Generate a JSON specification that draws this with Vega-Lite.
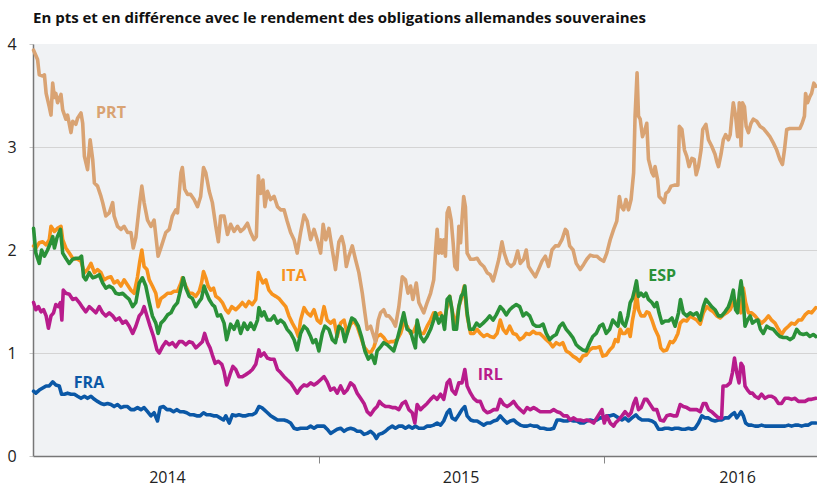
{
"$schema": "https://vega.github.io/schema/vega-lite/v6.json",
"width": 784, "height": 412,
"autosize": {"type": "none"},
"padding": {"left": 33, "top": 44, "right": 0, "bottom": 32},
"background": "white",
"title": {"text": "En pts et en différence avec le rendement des obligations allemandes souveraines", "anchor": "start", "frame": "group", "dx": 0, "offset": 10, "font": "Open Sans", "fontSize": 15, "fontWeight": "bold", "color": "#111111"},
"config": {"view": {"fill": "#f0f2f4", "stroke": null}},
"datasets": {"series": [
{"s":"FRA","t":2014.002,"v":0.63},{"s":"FRA","t":2014.010,"v":0.61},{"s":"FRA","t":2014.022,"v":0.64},{"s":"FRA","t":2014.034,"v":0.66},{"s":"FRA","t":2014.046,"v":0.68},{"s":"FRA","t":2014.057,"v":0.68},{"s":"FRA","t":2014.069,"v":0.72},{"s":"FRA","t":2014.080,"v":0.69},{"s":"FRA","t":2014.092,"v":0.68},{"s":"FRA","t":2014.100,"v":0.60},{"s":"FRA","t":2014.110,"v":0.60},{"s":"FRA","t":2014.121,"v":0.61},{"s":"FRA","t":2014.133,"v":0.60},{"s":"FRA","t":2014.145,"v":0.60},{"s":"FRA","t":2014.156,"v":0.58},{"s":"FRA","t":2014.168,"v":0.56},{"s":"FRA","t":2014.180,"v":0.58},{"s":"FRA","t":2014.191,"v":0.56},{"s":"FRA","t":2014.203,"v":0.58},{"s":"FRA","t":2014.215,"v":0.55},{"s":"FRA","t":2014.226,"v":0.53},{"s":"FRA","t":2014.238,"v":0.51},{"s":"FRA","t":2014.249,"v":0.50},{"s":"FRA","t":2014.261,"v":0.51},{"s":"FRA","t":2014.273,"v":0.50},{"s":"FRA","t":2014.284,"v":0.48},{"s":"FRA","t":2014.296,"v":0.50},{"s":"FRA","t":2014.308,"v":0.47},{"s":"FRA","t":2014.319,"v":0.48},{"s":"FRA","t":2014.331,"v":0.48},{"s":"FRA","t":2014.343,"v":0.45},{"s":"FRA","t":2014.354,"v":0.45},{"s":"FRA","t":2014.366,"v":0.47},{"s":"FRA","t":2014.378,"v":0.45},{"s":"FRA","t":2014.389,"v":0.47},{"s":"FRA","t":2014.401,"v":0.43},{"s":"FRA","t":2014.413,"v":0.39},{"s":"FRA","t":2014.424,"v":0.42},{"s":"FRA","t":2014.436,"v":0.34},{"s":"FRA","t":2014.445,"v":0.47},{"s":"FRA","t":2014.457,"v":0.48},{"s":"FRA","t":2014.469,"v":0.45},{"s":"FRA","t":2014.480,"v":0.45},{"s":"FRA","t":2014.492,"v":0.43},{"s":"FRA","t":2014.503,"v":0.45},{"s":"FRA","t":2014.515,"v":0.43},{"s":"FRA","t":2014.527,"v":0.43},{"s":"FRA","t":2014.538,"v":0.42},{"s":"FRA","t":2014.550,"v":0.40},{"s":"FRA","t":2014.562,"v":0.40},{"s":"FRA","t":2014.573,"v":0.39},{"s":"FRA","t":2014.585,"v":0.39},{"s":"FRA","t":2014.597,"v":0.42},{"s":"FRA","t":2014.608,"v":0.40},{"s":"FRA","t":2014.620,"v":0.40},{"s":"FRA","t":2014.632,"v":0.39},{"s":"FRA","t":2014.643,"v":0.39},{"s":"FRA","t":2014.655,"v":0.37},{"s":"FRA","t":2014.667,"v":0.35},{"s":"FRA","t":2014.675,"v":0.39},{"s":"FRA","t":2014.687,"v":0.32},{"s":"FRA","t":2014.698,"v":0.40},{"s":"FRA","t":2014.710,"v":0.39},{"s":"FRA","t":2014.721,"v":0.40},{"s":"FRA","t":2014.733,"v":0.39},{"s":"FRA","t":2014.745,"v":0.39},{"s":"FRA","t":2014.756,"v":0.40},{"s":"FRA","t":2014.768,"v":0.40},{"s":"FRA","t":2014.780,"v":0.42},{"s":"FRA","t":2014.791,"v":0.48},{"s":"FRA","t":2014.801,"v":0.47},{"s":"FRA","t":2014.809,"v":0.45},{"s":"FRA","t":2014.821,"v":0.42},{"s":"FRA","t":2014.832,"v":0.39},{"s":"FRA","t":2014.844,"v":0.37},{"s":"FRA","t":2014.856,"v":0.35},{"s":"FRA","t":2014.867,"v":0.35},{"s":"FRA","t":2014.879,"v":0.35},{"s":"FRA","t":2014.890,"v":0.34},{"s":"FRA","t":2014.902,"v":0.32},{"s":"FRA","t":2014.914,"v":0.27},{"s":"FRA","t":2014.925,"v":0.26},{"s":"FRA","t":2014.937,"v":0.27},{"s":"FRA","t":2014.949,"v":0.27},{"s":"FRA","t":2014.960,"v":0.27},{"s":"FRA","t":2014.972,"v":0.29},{"s":"FRA","t":2014.984,"v":0.27},{"s":"FRA","t":2014.995,"v":0.29},{"s":"FRA","t":2015.007,"v":0.29},{"s":"FRA","t":2015.019,"v":0.29},{"s":"FRA","t":2015.030,"v":0.26},{"s":"FRA","t":2015.042,"v":0.22},{"s":"FRA","t":2015.054,"v":0.24},{"s":"FRA","t":2015.065,"v":0.26},{"s":"FRA","t":2015.077,"v":0.27},{"s":"FRA","t":2015.089,"v":0.24},{"s":"FRA","t":2015.100,"v":0.26},{"s":"FRA","t":2015.112,"v":0.27},{"s":"FRA","t":2015.124,"v":0.26},{"s":"FRA","t":2015.135,"v":0.24},{"s":"FRA","t":2015.147,"v":0.24},{"s":"FRA","t":2015.159,"v":0.21},{"s":"FRA","t":2015.170,"v":0.22},{"s":"FRA","t":2015.182,"v":0.24},{"s":"FRA","t":2015.194,"v":0.21},{"s":"FRA","t":2015.202,"v":0.17},{"s":"FRA","t":2015.211,"v":0.21},{"s":"FRA","t":2015.223,"v":0.22},{"s":"FRA","t":2015.234,"v":0.24},{"s":"FRA","t":2015.246,"v":0.27},{"s":"FRA","t":2015.258,"v":0.29},{"s":"FRA","t":2015.269,"v":0.27},{"s":"FRA","t":2015.281,"v":0.29},{"s":"FRA","t":2015.293,"v":0.29},{"s":"FRA","t":2015.304,"v":0.27},{"s":"FRA","t":2015.316,"v":0.29},{"s":"FRA","t":2015.328,"v":0.27},{"s":"FRA","t":2015.339,"v":0.29},{"s":"FRA","t":2015.351,"v":0.27},{"s":"FRA","t":2015.368,"v":0.27},{"s":"FRA","t":2015.380,"v":0.29},{"s":"FRA","t":2015.392,"v":0.29},{"s":"FRA","t":2015.403,"v":0.30},{"s":"FRA","t":2015.415,"v":0.32},{"s":"FRA","t":2015.427,"v":0.30},{"s":"FRA","t":2015.438,"v":0.34},{"s":"FRA","t":2015.450,"v":0.42},{"s":"FRA","t":2015.459,"v":0.45},{"s":"FRA","t":2015.467,"v":0.37},{"s":"FRA","t":2015.479,"v":0.35},{"s":"FRA","t":2015.491,"v":0.40},{"s":"FRA","t":2015.502,"v":0.45},{"s":"FRA","t":2015.512,"v":0.48},{"s":"FRA","t":2015.520,"v":0.39},{"s":"FRA","t":2015.532,"v":0.35},{"s":"FRA","t":2015.543,"v":0.34},{"s":"FRA","t":2015.555,"v":0.34},{"s":"FRA","t":2015.566,"v":0.32},{"s":"FRA","t":2015.578,"v":0.30},{"s":"FRA","t":2015.590,"v":0.32},{"s":"FRA","t":2015.601,"v":0.32},{"s":"FRA","t":2015.613,"v":0.34},{"s":"FRA","t":2015.625,"v":0.35},{"s":"FRA","t":2015.636,"v":0.39},{"s":"FRA","t":2015.648,"v":0.35},{"s":"FRA","t":2015.660,"v":0.32},{"s":"FRA","t":2015.671,"v":0.34},{"s":"FRA","t":2015.683,"v":0.35},{"s":"FRA","t":2015.695,"v":0.32},{"s":"FRA","t":2015.706,"v":0.30},{"s":"FRA","t":2015.718,"v":0.29},{"s":"FRA","t":2015.730,"v":0.29},{"s":"FRA","t":2015.741,"v":0.30},{"s":"FRA","t":2015.753,"v":0.29},{"s":"FRA","t":2015.765,"v":0.29},{"s":"FRA","t":2015.776,"v":0.27},{"s":"FRA","t":2015.788,"v":0.27},{"s":"FRA","t":2015.800,"v":0.26},{"s":"FRA","t":2015.811,"v":0.26},{"s":"FRA","t":2015.823,"v":0.27},{"s":"FRA","t":2015.835,"v":0.35},{"s":"FRA","t":2015.846,"v":0.35},{"s":"FRA","t":2015.858,"v":0.34},{"s":"FRA","t":2015.870,"v":0.34},{"s":"FRA","t":2015.881,"v":0.35},{"s":"FRA","t":2015.893,"v":0.34},{"s":"FRA","t":2015.904,"v":0.34},{"s":"FRA","t":2015.916,"v":0.32},{"s":"FRA","t":2015.928,"v":0.32},{"s":"FRA","t":2015.939,"v":0.34},{"s":"FRA","t":2015.951,"v":0.35},{"s":"FRA","t":2015.963,"v":0.34},{"s":"FRA","t":2015.974,"v":0.35},{"s":"FRA","t":2015.986,"v":0.37},{"s":"FRA","t":2015.998,"v":0.37},{"s":"FRA","t":2016.009,"v":0.39},{"s":"FRA","t":2016.021,"v":0.39},{"s":"FRA","t":2016.033,"v":0.40},{"s":"FRA","t":2016.050,"v":0.37},{"s":"FRA","t":2016.062,"v":0.35},{"s":"FRA","t":2016.073,"v":0.37},{"s":"FRA","t":2016.085,"v":0.34},{"s":"FRA","t":2016.097,"v":0.37},{"s":"FRA","t":2016.111,"v":0.40},{"s":"FRA","t":2016.120,"v":0.37},{"s":"FRA","t":2016.132,"v":0.35},{"s":"FRA","t":2016.143,"v":0.35},{"s":"FRA","t":2016.155,"v":0.35},{"s":"FRA","t":2016.167,"v":0.34},{"s":"FRA","t":2016.178,"v":0.32},{"s":"FRA","t":2016.190,"v":0.26},{"s":"FRA","t":2016.202,"v":0.26},{"s":"FRA","t":2016.213,"v":0.27},{"s":"FRA","t":2016.225,"v":0.27},{"s":"FRA","t":2016.237,"v":0.26},{"s":"FRA","t":2016.248,"v":0.27},{"s":"FRA","t":2016.260,"v":0.27},{"s":"FRA","t":2016.272,"v":0.26},{"s":"FRA","t":2016.283,"v":0.26},{"s":"FRA","t":2016.295,"v":0.27},{"s":"FRA","t":2016.307,"v":0.26},{"s":"FRA","t":2016.318,"v":0.27},{"s":"FRA","t":2016.330,"v":0.32},{"s":"FRA","t":2016.342,"v":0.39},{"s":"FRA","t":2016.353,"v":0.37},{"s":"FRA","t":2016.365,"v":0.37},{"s":"FRA","t":2016.376,"v":0.35},{"s":"FRA","t":2016.388,"v":0.34},{"s":"FRA","t":2016.400,"v":0.35},{"s":"FRA","t":2016.411,"v":0.35},{"s":"FRA","t":2016.423,"v":0.37},{"s":"FRA","t":2016.435,"v":0.37},{"s":"FRA","t":2016.446,"v":0.40},{"s":"FRA","t":2016.456,"v":0.42},{"s":"FRA","t":2016.464,"v":0.37},{"s":"FRA","t":2016.472,"v":0.40},{"s":"FRA","t":2016.479,"v":0.43},{"s":"FRA","t":2016.487,"v":0.39},{"s":"FRA","t":2016.495,"v":0.32},{"s":"FRA","t":2016.505,"v":0.30},{"s":"FRA","t":2016.516,"v":0.30},{"s":"FRA","t":2016.528,"v":0.29},{"s":"FRA","t":2016.540,"v":0.29},{"s":"FRA","t":2016.551,"v":0.30},{"s":"FRA","t":2016.563,"v":0.29},{"s":"FRA","t":2016.575,"v":0.29},{"s":"FRA","t":2016.586,"v":0.29},{"s":"FRA","t":2016.598,"v":0.29},{"s":"FRA","t":2016.610,"v":0.29},{"s":"FRA","t":2016.621,"v":0.29},{"s":"FRA","t":2016.633,"v":0.29},{"s":"FRA","t":2016.645,"v":0.30},{"s":"FRA","t":2016.656,"v":0.29},{"s":"FRA","t":2016.668,"v":0.30},{"s":"FRA","t":2016.680,"v":0.30},{"s":"FRA","t":2016.691,"v":0.29},{"s":"FRA","t":2016.703,"v":0.30},{"s":"FRA","t":2016.715,"v":0.30},{"s":"FRA","t":2016.726,"v":0.32},{"s":"FRA","t":2016.741,"v":0.32},
{"s":"IRL","t":2014.002,"v":1.49},{"s":"IRL","t":2014.010,"v":1.42},{"s":"IRL","t":2014.019,"v":1.45},{"s":"IRL","t":2014.028,"v":1.40},{"s":"IRL","t":2014.037,"v":1.42},{"s":"IRL","t":2014.046,"v":1.36},{"s":"IRL","t":2014.054,"v":1.24},{"s":"IRL","t":2014.063,"v":1.36},{"s":"IRL","t":2014.072,"v":1.39},{"s":"IRL","t":2014.080,"v":1.47},{"s":"IRL","t":2014.089,"v":1.45},{"s":"IRL","t":2014.096,"v":1.49},{"s":"IRL","t":2014.101,"v":1.32},{"s":"IRL","t":2014.106,"v":1.61},{"s":"IRL","t":2014.115,"v":1.58},{"s":"IRL","t":2014.127,"v":1.57},{"s":"IRL","t":2014.139,"v":1.52},{"s":"IRL","t":2014.150,"v":1.53},{"s":"IRL","t":2014.162,"v":1.49},{"s":"IRL","t":2014.174,"v":1.44},{"s":"IRL","t":2014.185,"v":1.40},{"s":"IRL","t":2014.197,"v":1.45},{"s":"IRL","t":2014.209,"v":1.42},{"s":"IRL","t":2014.220,"v":1.39},{"s":"IRL","t":2014.232,"v":1.45},{"s":"IRL","t":2014.244,"v":1.39},{"s":"IRL","t":2014.255,"v":1.36},{"s":"IRL","t":2014.267,"v":1.39},{"s":"IRL","t":2014.279,"v":1.36},{"s":"IRL","t":2014.290,"v":1.32},{"s":"IRL","t":2014.302,"v":1.34},{"s":"IRL","t":2014.314,"v":1.29},{"s":"IRL","t":2014.325,"v":1.31},{"s":"IRL","t":2014.337,"v":1.26},{"s":"IRL","t":2014.349,"v":1.19},{"s":"IRL","t":2014.360,"v":1.26},{"s":"IRL","t":2014.372,"v":1.36},{"s":"IRL","t":2014.381,"v":1.39},{"s":"IRL","t":2014.389,"v":1.45},{"s":"IRL","t":2014.399,"v":1.36},{"s":"IRL","t":2014.410,"v":1.26},{"s":"IRL","t":2014.422,"v":1.16},{"s":"IRL","t":2014.434,"v":1.03},{"s":"IRL","t":2014.442,"v":1.00},{"s":"IRL","t":2014.453,"v":1.06},{"s":"IRL","t":2014.465,"v":1.11},{"s":"IRL","t":2014.477,"v":1.08},{"s":"IRL","t":2014.488,"v":1.10},{"s":"IRL","t":2014.500,"v":1.06},{"s":"IRL","t":2014.512,"v":1.11},{"s":"IRL","t":2014.523,"v":1.11},{"s":"IRL","t":2014.535,"v":1.08},{"s":"IRL","t":2014.547,"v":1.11},{"s":"IRL","t":2014.558,"v":1.10},{"s":"IRL","t":2014.570,"v":1.05},{"s":"IRL","t":2014.582,"v":1.08},{"s":"IRL","t":2014.593,"v":1.11},{"s":"IRL","t":2014.601,"v":1.19},{"s":"IRL","t":2014.611,"v":1.10},{"s":"IRL","t":2014.620,"v":1.05},{"s":"IRL","t":2014.628,"v":0.98},{"s":"IRL","t":2014.638,"v":0.90},{"s":"IRL","t":2014.649,"v":0.92},{"s":"IRL","t":2014.661,"v":0.89},{"s":"IRL","t":2014.669,"v":0.82},{"s":"IRL","t":2014.678,"v":0.69},{"s":"IRL","t":2014.684,"v":0.74},{"s":"IRL","t":2014.692,"v":0.81},{"s":"IRL","t":2014.700,"v":0.87},{"s":"IRL","t":2014.710,"v":0.84},{"s":"IRL","t":2014.721,"v":0.77},{"s":"IRL","t":2014.733,"v":0.77},{"s":"IRL","t":2014.745,"v":0.79},{"s":"IRL","t":2014.756,"v":0.81},{"s":"IRL","t":2014.768,"v":0.84},{"s":"IRL","t":2014.780,"v":0.89},{"s":"IRL","t":2014.791,"v":1.03},{"s":"IRL","t":2014.797,"v":0.97},{"s":"IRL","t":2014.809,"v":1.00},{"s":"IRL","t":2014.821,"v":0.95},{"s":"IRL","t":2014.832,"v":0.94},{"s":"IRL","t":2014.844,"v":0.94},{"s":"IRL","t":2014.856,"v":0.84},{"s":"IRL","t":2014.867,"v":0.81},{"s":"IRL","t":2014.879,"v":0.77},{"s":"IRL","t":2014.890,"v":0.74},{"s":"IRL","t":2014.902,"v":0.71},{"s":"IRL","t":2014.914,"v":0.66},{"s":"IRL","t":2014.925,"v":0.61},{"s":"IRL","t":2014.937,"v":0.66},{"s":"IRL","t":2014.949,"v":0.69},{"s":"IRL","t":2014.960,"v":0.68},{"s":"IRL","t":2014.972,"v":0.71},{"s":"IRL","t":2014.984,"v":0.69},{"s":"IRL","t":2014.995,"v":0.71},{"s":"IRL","t":2015.007,"v":0.74},{"s":"IRL","t":2015.019,"v":0.77},{"s":"IRL","t":2015.030,"v":0.72},{"s":"IRL","t":2015.042,"v":0.64},{"s":"IRL","t":2015.054,"v":0.66},{"s":"IRL","t":2015.065,"v":0.61},{"s":"IRL","t":2015.077,"v":0.68},{"s":"IRL","t":2015.089,"v":0.61},{"s":"IRL","t":2015.100,"v":0.64},{"s":"IRL","t":2015.112,"v":0.71},{"s":"IRL","t":2015.124,"v":0.68},{"s":"IRL","t":2015.135,"v":0.61},{"s":"IRL","t":2015.147,"v":0.56},{"s":"IRL","t":2015.159,"v":0.51},{"s":"IRL","t":2015.170,"v":0.43},{"s":"IRL","t":2015.182,"v":0.40},{"s":"IRL","t":2015.194,"v":0.45},{"s":"IRL","t":2015.205,"v":0.48},{"s":"IRL","t":2015.213,"v":0.53},{"s":"IRL","t":2015.223,"v":0.50},{"s":"IRL","t":2015.234,"v":0.48},{"s":"IRL","t":2015.246,"v":0.48},{"s":"IRL","t":2015.258,"v":0.47},{"s":"IRL","t":2015.269,"v":0.47},{"s":"IRL","t":2015.281,"v":0.45},{"s":"IRL","t":2015.293,"v":0.51},{"s":"IRL","t":2015.304,"v":0.53},{"s":"IRL","t":2015.316,"v":0.45},{"s":"IRL","t":2015.328,"v":0.42},{"s":"IRL","t":2015.337,"v":0.32},{"s":"IRL","t":2015.345,"v":0.50},{"s":"IRL","t":2015.357,"v":0.45},{"s":"IRL","t":2015.368,"v":0.48},{"s":"IRL","t":2015.380,"v":0.51},{"s":"IRL","t":2015.392,"v":0.55},{"s":"IRL","t":2015.403,"v":0.58},{"s":"IRL","t":2015.415,"v":0.55},{"s":"IRL","t":2015.427,"v":0.60},{"s":"IRL","t":2015.438,"v":0.55},{"s":"IRL","t":2015.450,"v":0.71},{"s":"IRL","t":2015.459,"v":0.74},{"s":"IRL","t":2015.467,"v":0.64},{"s":"IRL","t":2015.479,"v":0.60},{"s":"IRL","t":2015.491,"v":0.71},{"s":"IRL","t":2015.502,"v":0.71},{"s":"IRL","t":2015.512,"v":0.84},{"s":"IRL","t":2015.520,"v":0.68},{"s":"IRL","t":2015.532,"v":0.61},{"s":"IRL","t":2015.543,"v":0.56},{"s":"IRL","t":2015.555,"v":0.53},{"s":"IRL","t":2015.566,"v":0.53},{"s":"IRL","t":2015.578,"v":0.45},{"s":"IRL","t":2015.590,"v":0.42},{"s":"IRL","t":2015.601,"v":0.43},{"s":"IRL","t":2015.613,"v":0.45},{"s":"IRL","t":2015.625,"v":0.45},{"s":"IRL","t":2015.636,"v":0.55},{"s":"IRL","t":2015.648,"v":0.50},{"s":"IRL","t":2015.660,"v":0.48},{"s":"IRL","t":2015.671,"v":0.50},{"s":"IRL","t":2015.683,"v":0.53},{"s":"IRL","t":2015.695,"v":0.48},{"s":"IRL","t":2015.706,"v":0.45},{"s":"IRL","t":2015.718,"v":0.42},{"s":"IRL","t":2015.730,"v":0.47},{"s":"IRL","t":2015.741,"v":0.45},{"s":"IRL","t":2015.753,"v":0.47},{"s":"IRL","t":2015.765,"v":0.45},{"s":"IRL","t":2015.776,"v":0.43},{"s":"IRL","t":2015.788,"v":0.43},{"s":"IRL","t":2015.800,"v":0.43},{"s":"IRL","t":2015.811,"v":0.43},{"s":"IRL","t":2015.823,"v":0.45},{"s":"IRL","t":2015.835,"v":0.43},{"s":"IRL","t":2015.846,"v":0.42},{"s":"IRL","t":2015.858,"v":0.39},{"s":"IRL","t":2015.870,"v":0.39},{"s":"IRL","t":2015.881,"v":0.35},{"s":"IRL","t":2015.893,"v":0.37},{"s":"IRL","t":2015.904,"v":0.35},{"s":"IRL","t":2015.916,"v":0.35},{"s":"IRL","t":2015.928,"v":0.34},{"s":"IRL","t":2015.939,"v":0.35},{"s":"IRL","t":2015.951,"v":0.34},{"s":"IRL","t":2015.963,"v":0.32},{"s":"IRL","t":2015.974,"v":0.37},{"s":"IRL","t":2015.992,"v":0.45},{"s":"IRL","t":2016.000,"v":0.32},{"s":"IRL","t":2016.009,"v":0.39},{"s":"IRL","t":2016.021,"v":0.32},{"s":"IRL","t":2016.033,"v":0.29},{"s":"IRL","t":2016.039,"v":0.32},{"s":"IRL","t":2016.050,"v":0.35},{"s":"IRL","t":2016.062,"v":0.39},{"s":"IRL","t":2016.073,"v":0.43},{"s":"IRL","t":2016.085,"v":0.39},{"s":"IRL","t":2016.094,"v":0.42},{"s":"IRL","t":2016.103,"v":0.51},{"s":"IRL","t":2016.111,"v":0.56},{"s":"IRL","t":2016.120,"v":0.45},{"s":"IRL","t":2016.129,"v":0.47},{"s":"IRL","t":2016.141,"v":0.55},{"s":"IRL","t":2016.149,"v":0.55},{"s":"IRL","t":2016.161,"v":0.50},{"s":"IRL","t":2016.173,"v":0.45},{"s":"IRL","t":2016.184,"v":0.45},{"s":"IRL","t":2016.196,"v":0.35},{"s":"IRL","t":2016.208,"v":0.34},{"s":"IRL","t":2016.219,"v":0.39},{"s":"IRL","t":2016.231,"v":0.40},{"s":"IRL","t":2016.242,"v":0.39},{"s":"IRL","t":2016.254,"v":0.39},{"s":"IRL","t":2016.266,"v":0.50},{"s":"IRL","t":2016.277,"v":0.48},{"s":"IRL","t":2016.289,"v":0.47},{"s":"IRL","t":2016.301,"v":0.45},{"s":"IRL","t":2016.312,"v":0.45},{"s":"IRL","t":2016.324,"v":0.45},{"s":"IRL","t":2016.336,"v":0.43},{"s":"IRL","t":2016.347,"v":0.51},{"s":"IRL","t":2016.356,"v":0.51},{"s":"IRL","t":2016.365,"v":0.45},{"s":"IRL","t":2016.376,"v":0.43},{"s":"IRL","t":2016.388,"v":0.40},{"s":"IRL","t":2016.400,"v":0.37},{"s":"IRL","t":2016.411,"v":0.37},{"s":"IRL","t":2016.416,"v":0.68},{"s":"IRL","t":2016.429,"v":0.68},{"s":"IRL","t":2016.441,"v":0.71},{"s":"IRL","t":2016.449,"v":0.81},{"s":"IRL","t":2016.456,"v":0.95},{"s":"IRL","t":2016.464,"v":0.81},{"s":"IRL","t":2016.472,"v":0.71},{"s":"IRL","t":2016.479,"v":0.90},{"s":"IRL","t":2016.486,"v":0.87},{"s":"IRL","t":2016.493,"v":0.68},{"s":"IRL","t":2016.502,"v":0.64},{"s":"IRL","t":2016.511,"v":0.61},{"s":"IRL","t":2016.519,"v":0.61},{"s":"IRL","t":2016.528,"v":0.58},{"s":"IRL","t":2016.540,"v":0.56},{"s":"IRL","t":2016.551,"v":0.60},{"s":"IRL","t":2016.563,"v":0.56},{"s":"IRL","t":2016.575,"v":0.58},{"s":"IRL","t":2016.586,"v":0.58},{"s":"IRL","t":2016.598,"v":0.56},{"s":"IRL","t":2016.610,"v":0.51},{"s":"IRL","t":2016.621,"v":0.51},{"s":"IRL","t":2016.633,"v":0.56},{"s":"IRL","t":2016.645,"v":0.56},{"s":"IRL","t":2016.656,"v":0.55},{"s":"IRL","t":2016.668,"v":0.56},{"s":"IRL","t":2016.680,"v":0.53},{"s":"IRL","t":2016.691,"v":0.53},{"s":"IRL","t":2016.703,"v":0.53},{"s":"IRL","t":2016.715,"v":0.55},{"s":"IRL","t":2016.726,"v":0.55},{"s":"IRL","t":2016.741,"v":0.56},
{"s":"ITA","t":2014.002,"v":2.04},{"s":"ITA","t":2014.010,"v":2.02},{"s":"ITA","t":2014.022,"v":2.07},{"s":"ITA","t":2014.034,"v":2.08},{"s":"ITA","t":2014.046,"v":2.05},{"s":"ITA","t":2014.057,"v":2.10},{"s":"ITA","t":2014.063,"v":2.23},{"s":"ITA","t":2014.075,"v":2.18},{"s":"ITA","t":2014.086,"v":2.21},{"s":"ITA","t":2014.098,"v":2.23},{"s":"ITA","t":2014.104,"v":2.10},{"s":"ITA","t":2014.115,"v":2.02},{"s":"ITA","t":2014.127,"v":1.97},{"s":"ITA","t":2014.139,"v":1.92},{"s":"ITA","t":2014.156,"v":1.91},{"s":"ITA","t":2014.168,"v":1.89},{"s":"ITA","t":2014.180,"v":1.78},{"s":"ITA","t":2014.191,"v":1.81},{"s":"ITA","t":2014.203,"v":1.87},{"s":"ITA","t":2014.215,"v":1.78},{"s":"ITA","t":2014.226,"v":1.81},{"s":"ITA","t":2014.238,"v":1.78},{"s":"ITA","t":2014.249,"v":1.71},{"s":"ITA","t":2014.261,"v":1.73},{"s":"ITA","t":2014.273,"v":1.74},{"s":"ITA","t":2014.284,"v":1.68},{"s":"ITA","t":2014.296,"v":1.70},{"s":"ITA","t":2014.308,"v":1.65},{"s":"ITA","t":2014.319,"v":1.71},{"s":"ITA","t":2014.331,"v":1.66},{"s":"ITA","t":2014.343,"v":1.61},{"s":"ITA","t":2014.354,"v":1.58},{"s":"ITA","t":2014.366,"v":1.74},{"s":"ITA","t":2014.374,"v":1.89},{"s":"ITA","t":2014.381,"v":2.00},{"s":"ITA","t":2014.389,"v":1.84},{"s":"ITA","t":2014.399,"v":1.81},{"s":"ITA","t":2014.407,"v":1.71},{"s":"ITA","t":2014.418,"v":1.65},{"s":"ITA","t":2014.430,"v":1.58},{"s":"ITA","t":2014.438,"v":1.45},{"s":"ITA","t":2014.448,"v":1.53},{"s":"ITA","t":2014.459,"v":1.55},{"s":"ITA","t":2014.471,"v":1.58},{"s":"ITA","t":2014.483,"v":1.58},{"s":"ITA","t":2014.494,"v":1.60},{"s":"ITA","t":2014.506,"v":1.60},{"s":"ITA","t":2014.518,"v":1.68},{"s":"ITA","t":2014.523,"v":1.73},{"s":"ITA","t":2014.535,"v":1.65},{"s":"ITA","t":2014.547,"v":1.58},{"s":"ITA","t":2014.558,"v":1.58},{"s":"ITA","t":2014.570,"v":1.55},{"s":"ITA","t":2014.582,"v":1.60},{"s":"ITA","t":2014.590,"v":1.68},{"s":"ITA","t":2014.597,"v":1.79},{"s":"ITA","t":2014.605,"v":1.73},{"s":"ITA","t":2014.613,"v":1.65},{"s":"ITA","t":2014.622,"v":1.61},{"s":"ITA","t":2014.632,"v":1.63},{"s":"ITA","t":2014.640,"v":1.55},{"s":"ITA","t":2014.651,"v":1.53},{"s":"ITA","t":2014.663,"v":1.49},{"s":"ITA","t":2014.675,"v":1.42},{"s":"ITA","t":2014.684,"v":1.39},{"s":"ITA","t":2014.696,"v":1.45},{"s":"ITA","t":2014.710,"v":1.42},{"s":"ITA","t":2014.721,"v":1.45},{"s":"ITA","t":2014.733,"v":1.49},{"s":"ITA","t":2014.745,"v":1.45},{"s":"ITA","t":2014.756,"v":1.50},{"s":"ITA","t":2014.768,"v":1.47},{"s":"ITA","t":2014.780,"v":1.52},{"s":"ITA","t":2014.789,"v":1.78},{"s":"ITA","t":2014.795,"v":1.74},{"s":"ITA","t":2014.805,"v":1.68},{"s":"ITA","t":2014.815,"v":1.71},{"s":"ITA","t":2014.826,"v":1.61},{"s":"ITA","t":2014.838,"v":1.57},{"s":"ITA","t":2014.850,"v":1.55},{"s":"ITA","t":2014.861,"v":1.53},{"s":"ITA","t":2014.873,"v":1.49},{"s":"ITA","t":2014.885,"v":1.45},{"s":"ITA","t":2014.896,"v":1.36},{"s":"ITA","t":2014.908,"v":1.29},{"s":"ITA","t":2014.920,"v":1.23},{"s":"ITA","t":2014.929,"v":1.16},{"s":"ITA","t":2014.937,"v":1.32},{"s":"ITA","t":2014.949,"v":1.44},{"s":"ITA","t":2014.960,"v":1.39},{"s":"ITA","t":2014.972,"v":1.36},{"s":"ITA","t":2014.984,"v":1.42},{"s":"ITA","t":2014.995,"v":1.32},{"s":"ITA","t":2015.007,"v":1.29},{"s":"ITA","t":2015.019,"v":1.45},{"s":"ITA","t":2015.030,"v":1.32},{"s":"ITA","t":2015.042,"v":1.29},{"s":"ITA","t":2015.054,"v":1.32},{"s":"ITA","t":2015.065,"v":1.16},{"s":"ITA","t":2015.077,"v":1.29},{"s":"ITA","t":2015.089,"v":1.32},{"s":"ITA","t":2015.100,"v":1.19},{"s":"ITA","t":2015.112,"v":1.28},{"s":"ITA","t":2015.124,"v":1.31},{"s":"ITA","t":2015.135,"v":1.26},{"s":"ITA","t":2015.147,"v":1.16},{"s":"ITA","t":2015.159,"v":1.06},{"s":"ITA","t":2015.170,"v":1.02},{"s":"ITA","t":2015.182,"v":1.00},{"s":"ITA","t":2015.194,"v":1.06},{"s":"ITA","t":2015.205,"v":1.16},{"s":"ITA","t":2015.217,"v":1.18},{"s":"ITA","t":2015.228,"v":1.15},{"s":"ITA","t":2015.240,"v":1.10},{"s":"ITA","t":2015.252,"v":1.11},{"s":"ITA","t":2015.263,"v":1.11},{"s":"ITA","t":2015.275,"v":1.13},{"s":"ITA","t":2015.287,"v":1.19},{"s":"ITA","t":2015.298,"v":1.29},{"s":"ITA","t":2015.310,"v":1.26},{"s":"ITA","t":2015.322,"v":1.19},{"s":"ITA","t":2015.333,"v":1.21},{"s":"ITA","t":2015.345,"v":1.29},{"s":"ITA","t":2015.357,"v":1.19},{"s":"ITA","t":2015.368,"v":1.19},{"s":"ITA","t":2015.380,"v":1.26},{"s":"ITA","t":2015.392,"v":1.32},{"s":"ITA","t":2015.403,"v":1.39},{"s":"ITA","t":2015.415,"v":1.37},{"s":"ITA","t":2015.427,"v":1.39},{"s":"ITA","t":2015.438,"v":1.29},{"s":"ITA","t":2015.450,"v":1.45},{"s":"ITA","t":2015.459,"v":1.55},{"s":"ITA","t":2015.467,"v":1.42},{"s":"ITA","t":2015.479,"v":1.26},{"s":"ITA","t":2015.491,"v":1.45},{"s":"ITA","t":2015.502,"v":1.55},{"s":"ITA","t":2015.510,"v":1.65},{"s":"ITA","t":2015.520,"v":1.36},{"s":"ITA","t":2015.532,"v":1.19},{"s":"ITA","t":2015.543,"v":1.19},{"s":"ITA","t":2015.555,"v":1.23},{"s":"ITA","t":2015.566,"v":1.19},{"s":"ITA","t":2015.578,"v":1.16},{"s":"ITA","t":2015.590,"v":1.18},{"s":"ITA","t":2015.601,"v":1.16},{"s":"ITA","t":2015.613,"v":1.15},{"s":"ITA","t":2015.625,"v":1.19},{"s":"ITA","t":2015.636,"v":1.32},{"s":"ITA","t":2015.646,"v":1.23},{"s":"ITA","t":2015.657,"v":1.19},{"s":"ITA","t":2015.669,"v":1.26},{"s":"ITA","t":2015.681,"v":1.19},{"s":"ITA","t":2015.692,"v":1.18},{"s":"ITA","t":2015.704,"v":1.13},{"s":"ITA","t":2015.716,"v":1.15},{"s":"ITA","t":2015.727,"v":1.19},{"s":"ITA","t":2015.739,"v":1.18},{"s":"ITA","t":2015.751,"v":1.21},{"s":"ITA","t":2015.762,"v":1.19},{"s":"ITA","t":2015.774,"v":1.19},{"s":"ITA","t":2015.786,"v":1.16},{"s":"ITA","t":2015.797,"v":1.13},{"s":"ITA","t":2015.809,"v":1.10},{"s":"ITA","t":2015.820,"v":1.06},{"s":"ITA","t":2015.832,"v":1.10},{"s":"ITA","t":2015.844,"v":1.08},{"s":"ITA","t":2015.855,"v":1.10},{"s":"ITA","t":2015.867,"v":1.02},{"s":"ITA","t":2015.879,"v":1.00},{"s":"ITA","t":2015.890,"v":0.97},{"s":"ITA","t":2015.902,"v":0.95},{"s":"ITA","t":2015.914,"v":0.92},{"s":"ITA","t":2015.925,"v":0.97},{"s":"ITA","t":2015.937,"v":0.98},{"s":"ITA","t":2015.949,"v":1.03},{"s":"ITA","t":2015.960,"v":1.05},{"s":"ITA","t":2015.972,"v":1.05},{"s":"ITA","t":2015.984,"v":1.06},{"s":"ITA","t":2015.995,"v":0.97},{"s":"ITA","t":2016.007,"v":0.98},{"s":"ITA","t":2016.019,"v":1.03},{"s":"ITA","t":2016.030,"v":1.06},{"s":"ITA","t":2016.039,"v":1.13},{"s":"ITA","t":2016.048,"v":1.11},{"s":"ITA","t":2016.056,"v":1.23},{"s":"ITA","t":2016.064,"v":1.19},{"s":"ITA","t":2016.073,"v":1.19},{"s":"ITA","t":2016.083,"v":1.23},{"s":"ITA","t":2016.091,"v":1.16},{"s":"ITA","t":2016.099,"v":1.32},{"s":"ITA","t":2016.106,"v":1.42},{"s":"ITA","t":2016.113,"v":1.58},{"s":"ITA","t":2016.120,"v":1.42},{"s":"ITA","t":2016.129,"v":1.36},{"s":"ITA","t":2016.141,"v":1.36},{"s":"ITA","t":2016.149,"v":1.40},{"s":"ITA","t":2016.157,"v":1.39},{"s":"ITA","t":2016.167,"v":1.32},{"s":"ITA","t":2016.178,"v":1.23},{"s":"ITA","t":2016.190,"v":1.16},{"s":"ITA","t":2016.198,"v":1.05},{"s":"ITA","t":2016.207,"v":1.02},{"s":"ITA","t":2016.219,"v":1.03},{"s":"ITA","t":2016.231,"v":1.11},{"s":"ITA","t":2016.240,"v":1.10},{"s":"ITA","t":2016.248,"v":1.13},{"s":"ITA","t":2016.258,"v":1.19},{"s":"ITA","t":2016.266,"v":1.29},{"s":"ITA","t":2016.277,"v":1.32},{"s":"ITA","t":2016.289,"v":1.31},{"s":"ITA","t":2016.301,"v":1.36},{"s":"ITA","t":2016.312,"v":1.34},{"s":"ITA","t":2016.324,"v":1.32},{"s":"ITA","t":2016.336,"v":1.28},{"s":"ITA","t":2016.347,"v":1.39},{"s":"ITA","t":2016.359,"v":1.45},{"s":"ITA","t":2016.371,"v":1.42},{"s":"ITA","t":2016.382,"v":1.40},{"s":"ITA","t":2016.394,"v":1.36},{"s":"ITA","t":2016.406,"v":1.34},{"s":"ITA","t":2016.417,"v":1.37},{"s":"ITA","t":2016.429,"v":1.39},{"s":"ITA","t":2016.441,"v":1.42},{"s":"ITA","t":2016.452,"v":1.49},{"s":"ITA","t":2016.460,"v":1.45},{"s":"ITA","t":2016.470,"v":1.52},{"s":"ITA","t":2016.479,"v":1.39},{"s":"ITA","t":2016.487,"v":1.63},{"s":"ITA","t":2016.495,"v":1.49},{"s":"ITA","t":2016.505,"v":1.39},{"s":"ITA","t":2016.516,"v":1.39},{"s":"ITA","t":2016.528,"v":1.36},{"s":"ITA","t":2016.540,"v":1.32},{"s":"ITA","t":2016.551,"v":1.29},{"s":"ITA","t":2016.563,"v":1.32},{"s":"ITA","t":2016.575,"v":1.36},{"s":"ITA","t":2016.586,"v":1.32},{"s":"ITA","t":2016.598,"v":1.29},{"s":"ITA","t":2016.610,"v":1.23},{"s":"ITA","t":2016.621,"v":1.18},{"s":"ITA","t":2016.633,"v":1.23},{"s":"ITA","t":2016.645,"v":1.26},{"s":"ITA","t":2016.656,"v":1.29},{"s":"ITA","t":2016.668,"v":1.28},{"s":"ITA","t":2016.680,"v":1.32},{"s":"ITA","t":2016.691,"v":1.32},{"s":"ITA","t":2016.703,"v":1.37},{"s":"ITA","t":2016.715,"v":1.40},{"s":"ITA","t":2016.726,"v":1.39},{"s":"ITA","t":2016.741,"v":1.44},
{"s":"ESP","t":2014.002,"v":2.21},{"s":"ESP","t":2014.010,"v":1.97},{"s":"ESP","t":2014.022,"v":1.87},{"s":"ESP","t":2014.030,"v":2.00},{"s":"ESP","t":2014.040,"v":1.94},{"s":"ESP","t":2014.051,"v":2.00},{"s":"ESP","t":2014.063,"v":2.08},{"s":"ESP","t":2014.069,"v":2.13},{"s":"ESP","t":2014.075,"v":2.02},{"s":"ESP","t":2014.084,"v":2.12},{"s":"ESP","t":2014.096,"v":2.20},{"s":"ESP","t":2014.104,"v":1.97},{"s":"ESP","t":2014.115,"v":1.92},{"s":"ESP","t":2014.127,"v":1.87},{"s":"ESP","t":2014.139,"v":1.91},{"s":"ESP","t":2014.150,"v":1.92},{"s":"ESP","t":2014.162,"v":1.92},{"s":"ESP","t":2014.170,"v":1.94},{"s":"ESP","t":2014.177,"v":1.74},{"s":"ESP","t":2014.185,"v":1.71},{"s":"ESP","t":2014.197,"v":1.78},{"s":"ESP","t":2014.209,"v":1.73},{"s":"ESP","t":2014.220,"v":1.74},{"s":"ESP","t":2014.232,"v":1.76},{"s":"ESP","t":2014.244,"v":1.68},{"s":"ESP","t":2014.255,"v":1.63},{"s":"ESP","t":2014.267,"v":1.65},{"s":"ESP","t":2014.279,"v":1.63},{"s":"ESP","t":2014.290,"v":1.58},{"s":"ESP","t":2014.302,"v":1.57},{"s":"ESP","t":2014.314,"v":1.58},{"s":"ESP","t":2014.325,"v":1.55},{"s":"ESP","t":2014.337,"v":1.52},{"s":"ESP","t":2014.349,"v":1.45},{"s":"ESP","t":2014.360,"v":1.49},{"s":"ESP","t":2014.372,"v":1.68},{"s":"ESP","t":2014.383,"v":1.73},{"s":"ESP","t":2014.395,"v":1.65},{"s":"ESP","t":2014.407,"v":1.49},{"s":"ESP","t":2014.418,"v":1.36},{"s":"ESP","t":2014.430,"v":1.29},{"s":"ESP","t":2014.438,"v":1.19},{"s":"ESP","t":2014.448,"v":1.29},{"s":"ESP","t":2014.459,"v":1.32},{"s":"ESP","t":2014.471,"v":1.37},{"s":"ESP","t":2014.483,"v":1.39},{"s":"ESP","t":2014.494,"v":1.45},{"s":"ESP","t":2014.506,"v":1.49},{"s":"ESP","t":2014.518,"v":1.63},{"s":"ESP","t":2014.526,"v":1.73},{"s":"ESP","t":2014.535,"v":1.63},{"s":"ESP","t":2014.547,"v":1.55},{"s":"ESP","t":2014.558,"v":1.53},{"s":"ESP","t":2014.570,"v":1.45},{"s":"ESP","t":2014.582,"v":1.50},{"s":"ESP","t":2014.590,"v":1.53},{"s":"ESP","t":2014.599,"v":1.65},{"s":"ESP","t":2014.608,"v":1.58},{"s":"ESP","t":2014.617,"v":1.52},{"s":"ESP","t":2014.628,"v":1.47},{"s":"ESP","t":2014.636,"v":1.45},{"s":"ESP","t":2014.646,"v":1.36},{"s":"ESP","t":2014.657,"v":1.37},{"s":"ESP","t":2014.669,"v":1.29},{"s":"ESP","t":2014.678,"v":1.13},{"s":"ESP","t":2014.692,"v":1.28},{"s":"ESP","t":2014.704,"v":1.23},{"s":"ESP","t":2014.716,"v":1.31},{"s":"ESP","t":2014.727,"v":1.19},{"s":"ESP","t":2014.739,"v":1.29},{"s":"ESP","t":2014.751,"v":1.23},{"s":"ESP","t":2014.762,"v":1.29},{"s":"ESP","t":2014.774,"v":1.23},{"s":"ESP","t":2014.786,"v":1.32},{"s":"ESP","t":2014.791,"v":1.44},{"s":"ESP","t":2014.801,"v":1.36},{"s":"ESP","t":2014.809,"v":1.40},{"s":"ESP","t":2014.821,"v":1.32},{"s":"ESP","t":2014.832,"v":1.32},{"s":"ESP","t":2014.844,"v":1.36},{"s":"ESP","t":2014.856,"v":1.29},{"s":"ESP","t":2014.867,"v":1.32},{"s":"ESP","t":2014.879,"v":1.29},{"s":"ESP","t":2014.890,"v":1.23},{"s":"ESP","t":2014.902,"v":1.19},{"s":"ESP","t":2014.914,"v":1.13},{"s":"ESP","t":2014.925,"v":1.03},{"s":"ESP","t":2014.937,"v":1.19},{"s":"ESP","t":2014.949,"v":1.26},{"s":"ESP","t":2014.960,"v":1.23},{"s":"ESP","t":2014.972,"v":1.16},{"s":"ESP","t":2014.980,"v":1.10},{"s":"ESP","t":2014.990,"v":1.13},{"s":"ESP","t":2015.001,"v":1.02},{"s":"ESP","t":2015.013,"v":1.19},{"s":"ESP","t":2015.022,"v":1.26},{"s":"ESP","t":2015.036,"v":1.23},{"s":"ESP","t":2015.048,"v":1.13},{"s":"ESP","t":2015.059,"v":1.10},{"s":"ESP","t":2015.071,"v":1.26},{"s":"ESP","t":2015.083,"v":1.23},{"s":"ESP","t":2015.092,"v":1.11},{"s":"ESP","t":2015.104,"v":1.23},{"s":"ESP","t":2015.116,"v":1.34},{"s":"ESP","t":2015.127,"v":1.32},{"s":"ESP","t":2015.139,"v":1.26},{"s":"ESP","t":2015.151,"v":1.15},{"s":"ESP","t":2015.162,"v":1.02},{"s":"ESP","t":2015.174,"v":0.94},{"s":"ESP","t":2015.186,"v":0.98},{"s":"ESP","t":2015.197,"v":0.90},{"s":"ESP","t":2015.205,"v":1.02},{"s":"ESP","t":2015.217,"v":1.06},{"s":"ESP","t":2015.228,"v":1.10},{"s":"ESP","t":2015.240,"v":1.08},{"s":"ESP","t":2015.252,"v":1.05},{"s":"ESP","t":2015.263,"v":1.02},{"s":"ESP","t":2015.275,"v":1.13},{"s":"ESP","t":2015.287,"v":1.26},{"s":"ESP","t":2015.298,"v":1.39},{"s":"ESP","t":2015.310,"v":1.23},{"s":"ESP","t":2015.322,"v":1.21},{"s":"ESP","t":2015.330,"v":1.13},{"s":"ESP","t":2015.339,"v":1.05},{"s":"ESP","t":2015.345,"v":1.32},{"s":"ESP","t":2015.357,"v":1.16},{"s":"ESP","t":2015.368,"v":1.11},{"s":"ESP","t":2015.380,"v":1.16},{"s":"ESP","t":2015.392,"v":1.23},{"s":"ESP","t":2015.403,"v":1.32},{"s":"ESP","t":2015.409,"v":1.39},{"s":"ESP","t":2015.421,"v":1.29},{"s":"ESP","t":2015.432,"v":1.36},{"s":"ESP","t":2015.441,"v":1.23},{"s":"ESP","t":2015.450,"v":1.52},{"s":"ESP","t":2015.459,"v":1.55},{"s":"ESP","t":2015.467,"v":1.42},{"s":"ESP","t":2015.473,"v":1.23},{"s":"ESP","t":2015.483,"v":1.23},{"s":"ESP","t":2015.491,"v":1.45},{"s":"ESP","t":2015.499,"v":1.55},{"s":"ESP","t":2015.506,"v":1.58},{"s":"ESP","t":2015.512,"v":1.65},{"s":"ESP","t":2015.520,"v":1.39},{"s":"ESP","t":2015.529,"v":1.23},{"s":"ESP","t":2015.541,"v":1.23},{"s":"ESP","t":2015.553,"v":1.29},{"s":"ESP","t":2015.564,"v":1.26},{"s":"ESP","t":2015.576,"v":1.29},{"s":"ESP","t":2015.587,"v":1.32},{"s":"ESP","t":2015.599,"v":1.36},{"s":"ESP","t":2015.611,"v":1.32},{"s":"ESP","t":2015.622,"v":1.37},{"s":"ESP","t":2015.636,"v":1.45},{"s":"ESP","t":2015.646,"v":1.42},{"s":"ESP","t":2015.657,"v":1.37},{"s":"ESP","t":2015.669,"v":1.42},{"s":"ESP","t":2015.681,"v":1.45},{"s":"ESP","t":2015.692,"v":1.47},{"s":"ESP","t":2015.704,"v":1.45},{"s":"ESP","t":2015.716,"v":1.36},{"s":"ESP","t":2015.727,"v":1.39},{"s":"ESP","t":2015.739,"v":1.36},{"s":"ESP","t":2015.751,"v":1.28},{"s":"ESP","t":2015.762,"v":1.26},{"s":"ESP","t":2015.774,"v":1.26},{"s":"ESP","t":2015.786,"v":1.28},{"s":"ESP","t":2015.797,"v":1.19},{"s":"ESP","t":2015.809,"v":1.13},{"s":"ESP","t":2015.820,"v":1.16},{"s":"ESP","t":2015.832,"v":1.18},{"s":"ESP","t":2015.844,"v":1.26},{"s":"ESP","t":2015.855,"v":1.29},{"s":"ESP","t":2015.867,"v":1.23},{"s":"ESP","t":2015.879,"v":1.19},{"s":"ESP","t":2015.890,"v":1.15},{"s":"ESP","t":2015.902,"v":1.08},{"s":"ESP","t":2015.914,"v":1.05},{"s":"ESP","t":2015.925,"v":1.03},{"s":"ESP","t":2015.937,"v":1.02},{"s":"ESP","t":2015.949,"v":1.10},{"s":"ESP","t":2015.960,"v":1.16},{"s":"ESP","t":2015.972,"v":1.19},{"s":"ESP","t":2015.984,"v":1.26},{"s":"ESP","t":2015.995,"v":1.28},{"s":"ESP","t":2016.007,"v":1.19},{"s":"ESP","t":2016.019,"v":1.23},{"s":"ESP","t":2016.030,"v":1.32},{"s":"ESP","t":2016.039,"v":1.29},{"s":"ESP","t":2016.048,"v":1.26},{"s":"ESP","t":2016.056,"v":1.39},{"s":"ESP","t":2016.064,"v":1.29},{"s":"ESP","t":2016.073,"v":1.26},{"s":"ESP","t":2016.083,"v":1.36},{"s":"ESP","t":2016.091,"v":1.49},{"s":"ESP","t":2016.099,"v":1.53},{"s":"ESP","t":2016.106,"v":1.61},{"s":"ESP","t":2016.113,"v":1.70},{"s":"ESP","t":2016.120,"v":1.55},{"s":"ESP","t":2016.129,"v":1.58},{"s":"ESP","t":2016.138,"v":1.55},{"s":"ESP","t":2016.146,"v":1.58},{"s":"ESP","t":2016.155,"v":1.52},{"s":"ESP","t":2016.167,"v":1.49},{"s":"ESP","t":2016.176,"v":1.45},{"s":"ESP","t":2016.184,"v":1.49},{"s":"ESP","t":2016.192,"v":1.39},{"s":"ESP","t":2016.202,"v":1.29},{"s":"ESP","t":2016.213,"v":1.31},{"s":"ESP","t":2016.225,"v":1.31},{"s":"ESP","t":2016.237,"v":1.34},{"s":"ESP","t":2016.248,"v":1.26},{"s":"ESP","t":2016.260,"v":1.39},{"s":"ESP","t":2016.267,"v":1.52},{"s":"ESP","t":2016.277,"v":1.39},{"s":"ESP","t":2016.289,"v":1.36},{"s":"ESP","t":2016.301,"v":1.39},{"s":"ESP","t":2016.312,"v":1.37},{"s":"ESP","t":2016.324,"v":1.39},{"s":"ESP","t":2016.336,"v":1.32},{"s":"ESP","t":2016.347,"v":1.45},{"s":"ESP","t":2016.356,"v":1.52},{"s":"ESP","t":2016.365,"v":1.49},{"s":"ESP","t":2016.376,"v":1.45},{"s":"ESP","t":2016.388,"v":1.42},{"s":"ESP","t":2016.400,"v":1.36},{"s":"ESP","t":2016.411,"v":1.36},{"s":"ESP","t":2016.423,"v":1.40},{"s":"ESP","t":2016.435,"v":1.45},{"s":"ESP","t":2016.444,"v":1.52},{"s":"ESP","t":2016.452,"v":1.61},{"s":"ESP","t":2016.460,"v":1.42},{"s":"ESP","t":2016.467,"v":1.39},{"s":"ESP","t":2016.473,"v":1.58},{"s":"ESP","t":2016.479,"v":1.70},{"s":"ESP","t":2016.485,"v":1.58},{"s":"ESP","t":2016.493,"v":1.26},{"s":"ESP","t":2016.502,"v":1.32},{"s":"ESP","t":2016.511,"v":1.36},{"s":"ESP","t":2016.519,"v":1.29},{"s":"ESP","t":2016.528,"v":1.31},{"s":"ESP","t":2016.538,"v":1.32},{"s":"ESP","t":2016.547,"v":1.23},{"s":"ESP","t":2016.557,"v":1.19},{"s":"ESP","t":2016.569,"v":1.26},{"s":"ESP","t":2016.580,"v":1.24},{"s":"ESP","t":2016.592,"v":1.23},{"s":"ESP","t":2016.604,"v":1.19},{"s":"ESP","t":2016.615,"v":1.16},{"s":"ESP","t":2016.627,"v":1.15},{"s":"ESP","t":2016.639,"v":1.15},{"s":"ESP","t":2016.650,"v":1.13},{"s":"ESP","t":2016.662,"v":1.15},{"s":"ESP","t":2016.674,"v":1.23},{"s":"ESP","t":2016.685,"v":1.19},{"s":"ESP","t":2016.697,"v":1.18},{"s":"ESP","t":2016.709,"v":1.19},{"s":"ESP","t":2016.720,"v":1.16},{"s":"ESP","t":2016.732,"v":1.18},{"s":"ESP","t":2016.741,"v":1.16},
{"s":"PRT","t":2014.002,"v":3.94},{"s":"PRT","t":2014.016,"v":3.85},{"s":"PRT","t":2014.022,"v":3.70},{"s":"PRT","t":2014.034,"v":3.69},{"s":"PRT","t":2014.040,"v":3.70},{"s":"PRT","t":2014.046,"v":3.52},{"s":"PRT","t":2014.057,"v":3.39},{"s":"PRT","t":2014.063,"v":3.31},{"s":"PRT","t":2014.069,"v":3.62},{"s":"PRT","t":2014.075,"v":3.48},{"s":"PRT","t":2014.080,"v":3.52},{"s":"PRT","t":2014.086,"v":3.43},{"s":"PRT","t":2014.098,"v":3.51},{"s":"PRT","t":2014.104,"v":3.36},{"s":"PRT","t":2014.115,"v":3.27},{"s":"PRT","t":2014.121,"v":3.31},{"s":"PRT","t":2014.133,"v":3.14},{"s":"PRT","t":2014.139,"v":3.25},{"s":"PRT","t":2014.150,"v":3.22},{"s":"PRT","t":2014.156,"v":3.28},{"s":"PRT","t":2014.168,"v":3.33},{"s":"PRT","t":2014.174,"v":3.23},{"s":"PRT","t":2014.180,"v":2.91},{"s":"PRT","t":2014.191,"v":2.78},{"s":"PRT","t":2014.200,"v":3.07},{"s":"PRT","t":2014.209,"v":2.88},{"s":"PRT","t":2014.215,"v":2.65},{"s":"PRT","t":2014.226,"v":2.62},{"s":"PRT","t":2014.238,"v":2.52},{"s":"PRT","t":2014.244,"v":2.46},{"s":"PRT","t":2014.255,"v":2.33},{"s":"PRT","t":2014.267,"v":2.36},{"s":"PRT","t":2014.279,"v":2.46},{"s":"PRT","t":2014.284,"v":2.33},{"s":"PRT","t":2014.296,"v":2.23},{"s":"PRT","t":2014.308,"v":2.20},{"s":"PRT","t":2014.319,"v":2.23},{"s":"PRT","t":2014.331,"v":2.17},{"s":"PRT","t":2014.343,"v":2.17},{"s":"PRT","t":2014.351,"v":2.02},{"s":"PRT","t":2014.360,"v":2.12},{"s":"PRT","t":2014.372,"v":2.42},{"s":"PRT","t":2014.381,"v":2.62},{"s":"PRT","t":2014.389,"v":2.46},{"s":"PRT","t":2014.401,"v":2.29},{"s":"PRT","t":2014.413,"v":2.23},{"s":"PRT","t":2014.424,"v":2.29},{"s":"PRT","t":2014.438,"v":1.94},{"s":"PRT","t":2014.450,"v":2.04},{"s":"PRT","t":2014.465,"v":2.17},{"s":"PRT","t":2014.477,"v":2.20},{"s":"PRT","t":2014.488,"v":2.33},{"s":"PRT","t":2014.500,"v":2.39},{"s":"PRT","t":2014.506,"v":2.36},{"s":"PRT","t":2014.518,"v":2.75},{"s":"PRT","t":2014.523,"v":2.80},{"s":"PRT","t":2014.531,"v":2.59},{"s":"PRT","t":2014.541,"v":2.54},{"s":"PRT","t":2014.552,"v":2.54},{"s":"PRT","t":2014.564,"v":2.49},{"s":"PRT","t":2014.576,"v":2.42},{"s":"PRT","t":2014.587,"v":2.52},{"s":"PRT","t":2014.597,"v":2.80},{"s":"PRT","t":2014.605,"v":2.75},{"s":"PRT","t":2014.617,"v":2.57},{"s":"PRT","t":2014.628,"v":2.46},{"s":"PRT","t":2014.640,"v":2.23},{"s":"PRT","t":2014.649,"v":2.08},{"s":"PRT","t":2014.657,"v":2.33},{"s":"PRT","t":2014.669,"v":2.33},{"s":"PRT","t":2014.681,"v":2.15},{"s":"PRT","t":2014.692,"v":2.25},{"s":"PRT","t":2014.704,"v":2.18},{"s":"PRT","t":2014.716,"v":2.23},{"s":"PRT","t":2014.727,"v":2.18},{"s":"PRT","t":2014.739,"v":2.21},{"s":"PRT","t":2014.751,"v":2.26},{"s":"PRT","t":2014.762,"v":2.17},{"s":"PRT","t":2014.774,"v":2.10},{"s":"PRT","t":2014.782,"v":2.13},{"s":"PRT","t":2014.789,"v":2.72},{"s":"PRT","t":2014.797,"v":2.55},{"s":"PRT","t":2014.805,"v":2.68},{"s":"PRT","t":2014.812,"v":2.42},{"s":"PRT","t":2014.821,"v":2.57},{"s":"PRT","t":2014.832,"v":2.49},{"s":"PRT","t":2014.844,"v":2.52},{"s":"PRT","t":2014.856,"v":2.42},{"s":"PRT","t":2014.867,"v":2.39},{"s":"PRT","t":2014.879,"v":2.39},{"s":"PRT","t":2014.890,"v":2.28},{"s":"PRT","t":2014.902,"v":2.17},{"s":"PRT","t":2014.914,"v":2.10},{"s":"PRT","t":2014.925,"v":1.97},{"s":"PRT","t":2014.937,"v":2.17},{"s":"PRT","t":2014.949,"v":2.34},{"s":"PRT","t":2014.960,"v":2.28},{"s":"PRT","t":2014.972,"v":2.10},{"s":"PRT","t":2014.984,"v":2.20},{"s":"PRT","t":2014.995,"v":2.10},{"s":"PRT","t":2015.007,"v":1.97},{"s":"PRT","t":2015.016,"v":2.25},{"s":"PRT","t":2015.025,"v":2.10},{"s":"PRT","t":2015.036,"v":2.21},{"s":"PRT","t":2015.048,"v":2.00},{"s":"PRT","t":2015.059,"v":1.81},{"s":"PRT","t":2015.071,"v":2.08},{"s":"PRT","t":2015.081,"v":2.13},{"s":"PRT","t":2015.089,"v":2.04},{"s":"PRT","t":2015.097,"v":1.84},{"s":"PRT","t":2015.106,"v":1.94},{"s":"PRT","t":2015.118,"v":2.04},{"s":"PRT","t":2015.129,"v":1.91},{"s":"PRT","t":2015.141,"v":1.78},{"s":"PRT","t":2015.153,"v":1.58},{"s":"PRT","t":2015.162,"v":1.39},{"s":"PRT","t":2015.170,"v":1.23},{"s":"PRT","t":2015.182,"v":1.26},{"s":"PRT","t":2015.190,"v":1.19},{"s":"PRT","t":2015.199,"v":1.11},{"s":"PRT","t":2015.209,"v":1.32},{"s":"PRT","t":2015.217,"v":1.39},{"s":"PRT","t":2015.228,"v":1.42},{"s":"PRT","t":2015.237,"v":1.36},{"s":"PRT","t":2015.246,"v":1.36},{"s":"PRT","t":2015.258,"v":1.32},{"s":"PRT","t":2015.269,"v":1.26},{"s":"PRT","t":2015.281,"v":1.45},{"s":"PRT","t":2015.293,"v":1.74},{"s":"PRT","t":2015.304,"v":1.71},{"s":"PRT","t":2015.313,"v":1.58},{"s":"PRT","t":2015.322,"v":1.65},{"s":"PRT","t":2015.330,"v":1.52},{"s":"PRT","t":2015.342,"v":1.68},{"s":"PRT","t":2015.351,"v":1.49},{"s":"PRT","t":2015.368,"v":1.39},{"s":"PRT","t":2015.380,"v":1.49},{"s":"PRT","t":2015.392,"v":1.58},{"s":"PRT","t":2015.403,"v":1.71},{"s":"PRT","t":2015.409,"v":1.97},{"s":"PRT","t":2015.415,"v":2.20},{"s":"PRT","t":2015.421,"v":1.97},{"s":"PRT","t":2015.427,"v":2.10},{"s":"PRT","t":2015.432,"v":1.97},{"s":"PRT","t":2015.438,"v":2.10},{"s":"PRT","t":2015.444,"v":1.94},{"s":"PRT","t":2015.450,"v":2.36},{"s":"PRT","t":2015.456,"v":2.41},{"s":"PRT","t":2015.464,"v":2.29},{"s":"PRT","t":2015.471,"v":2.07},{"s":"PRT","t":2015.477,"v":1.84},{"s":"PRT","t":2015.485,"v":1.81},{"s":"PRT","t":2015.491,"v":2.23},{"s":"PRT","t":2015.497,"v":2.07},{"s":"PRT","t":2015.502,"v":2.29},{"s":"PRT","t":2015.508,"v":2.52},{"s":"PRT","t":2015.514,"v":2.42},{"s":"PRT","t":2015.520,"v":1.97},{"s":"PRT","t":2015.532,"v":1.91},{"s":"PRT","t":2015.543,"v":1.91},{"s":"PRT","t":2015.555,"v":1.92},{"s":"PRT","t":2015.566,"v":1.87},{"s":"PRT","t":2015.578,"v":1.84},{"s":"PRT","t":2015.590,"v":1.78},{"s":"PRT","t":2015.601,"v":1.76},{"s":"PRT","t":2015.611,"v":1.70},{"s":"PRT","t":2015.619,"v":1.78},{"s":"PRT","t":2015.631,"v":1.91},{"s":"PRT","t":2015.642,"v":2.08},{"s":"PRT","t":2015.650,"v":1.97},{"s":"PRT","t":2015.662,"v":1.87},{"s":"PRT","t":2015.674,"v":1.84},{"s":"PRT","t":2015.685,"v":1.87},{"s":"PRT","t":2015.697,"v":1.99},{"s":"PRT","t":2015.706,"v":1.87},{"s":"PRT","t":2015.718,"v":1.91},{"s":"PRT","t":2015.727,"v":2.00},{"s":"PRT","t":2015.735,"v":1.84},{"s":"PRT","t":2015.747,"v":1.79},{"s":"PRT","t":2015.759,"v":1.74},{"s":"PRT","t":2015.770,"v":1.81},{"s":"PRT","t":2015.782,"v":1.89},{"s":"PRT","t":2015.794,"v":1.94},{"s":"PRT","t":2015.805,"v":1.84},{"s":"PRT","t":2015.817,"v":2.00},{"s":"PRT","t":2015.829,"v":2.04},{"s":"PRT","t":2015.840,"v":2.04},{"s":"PRT","t":2015.852,"v":2.10},{"s":"PRT","t":2015.864,"v":2.20},{"s":"PRT","t":2015.870,"v":2.18},{"s":"PRT","t":2015.879,"v":2.04},{"s":"PRT","t":2015.891,"v":2.00},{"s":"PRT","t":2015.902,"v":1.87},{"s":"PRT","t":2015.916,"v":1.81},{"s":"PRT","t":2015.928,"v":1.86},{"s":"PRT","t":2015.939,"v":1.91},{"s":"PRT","t":2015.951,"v":1.95},{"s":"PRT","t":2015.963,"v":1.94},{"s":"PRT","t":2015.974,"v":1.94},{"s":"PRT","t":2015.986,"v":1.91},{"s":"PRT","t":2015.998,"v":1.89},{"s":"PRT","t":2016.009,"v":1.97},{"s":"PRT","t":2016.021,"v":2.10},{"s":"PRT","t":2016.033,"v":2.20},{"s":"PRT","t":2016.044,"v":2.28},{"s":"PRT","t":2016.053,"v":2.52},{"s":"PRT","t":2016.060,"v":2.42},{"s":"PRT","t":2016.068,"v":2.39},{"s":"PRT","t":2016.076,"v":2.49},{"s":"PRT","t":2016.085,"v":2.39},{"s":"PRT","t":2016.094,"v":2.49},{"s":"PRT","t":2016.103,"v":2.75},{"s":"PRT","t":2016.108,"v":3.30},{"s":"PRT","t":2016.115,"v":3.72},{"s":"PRT","t":2016.120,"v":3.30},{"s":"PRT","t":2016.126,"v":3.27},{"s":"PRT","t":2016.134,"v":3.10},{"s":"PRT","t":2016.143,"v":3.17},{"s":"PRT","t":2016.149,"v":3.23},{"s":"PRT","t":2016.155,"v":2.88},{"s":"PRT","t":2016.167,"v":2.75},{"s":"PRT","t":2016.173,"v":2.72},{"s":"PRT","t":2016.178,"v":2.81},{"s":"PRT","t":2016.187,"v":2.68},{"s":"PRT","t":2016.192,"v":2.52},{"s":"PRT","t":2016.202,"v":2.49},{"s":"PRT","t":2016.210,"v":2.46},{"s":"PRT","t":2016.216,"v":2.55},{"s":"PRT","t":2016.225,"v":2.57},{"s":"PRT","t":2016.234,"v":2.62},{"s":"PRT","t":2016.246,"v":2.63},{"s":"PRT","t":2016.258,"v":2.63},{"s":"PRT","t":2016.263,"v":3.20},{"s":"PRT","t":2016.272,"v":3.17},{"s":"PRT","t":2016.281,"v":2.97},{"s":"PRT","t":2016.289,"v":2.91},{"s":"PRT","t":2016.297,"v":2.81},{"s":"PRT","t":2016.307,"v":2.89},{"s":"PRT","t":2016.315,"v":2.88},{"s":"PRT","t":2016.322,"v":2.73},{"s":"PRT","t":2016.330,"v":2.81},{"s":"PRT","t":2016.339,"v":2.97},{"s":"PRT","t":2016.345,"v":3.17},{"s":"PRT","t":2016.356,"v":3.22},{"s":"PRT","t":2016.365,"v":3.07},{"s":"PRT","t":2016.376,"v":3.01},{"s":"PRT","t":2016.388,"v":2.93},{"s":"PRT","t":2016.394,"v":2.86},{"s":"PRT","t":2016.400,"v":2.81},{"s":"PRT","t":2016.409,"v":2.93},{"s":"PRT","t":2016.417,"v":3.07},{"s":"PRT","t":2016.425,"v":3.12},{"s":"PRT","t":2016.435,"v":3.07},{"s":"PRT","t":2016.441,"v":3.12},{"s":"PRT","t":2016.446,"v":3.27},{"s":"PRT","t":2016.452,"v":3.43},{"s":"PRT","t":2016.460,"v":3.30},{"s":"PRT","t":2016.467,"v":3.10},{"s":"PRT","t":2016.473,"v":3.43},{"s":"PRT","t":2016.479,"v":3.01},{"s":"PRT","t":2016.484,"v":3.43},{"s":"PRT","t":2016.491,"v":3.39},{"s":"PRT","t":2016.497,"v":3.20},{"s":"PRT","t":2016.505,"v":3.14},{"s":"PRT","t":2016.514,"v":3.23},{"s":"PRT","t":2016.522,"v":3.27},{"s":"PRT","t":2016.534,"v":3.25},{"s":"PRT","t":2016.546,"v":3.20},{"s":"PRT","t":2016.557,"v":3.18},{"s":"PRT","t":2016.569,"v":3.14},{"s":"PRT","t":2016.580,"v":3.10},{"s":"PRT","t":2016.592,"v":3.04},{"s":"PRT","t":2016.604,"v":2.97},{"s":"PRT","t":2016.615,"v":2.88},{"s":"PRT","t":2016.624,"v":2.83},{"s":"PRT","t":2016.631,"v":2.97},{"s":"PRT","t":2016.639,"v":3.17},{"s":"PRT","t":2016.650,"v":3.18},{"s":"PRT","t":2016.662,"v":3.18},{"s":"PRT","t":2016.674,"v":3.18},{"s":"PRT","t":2016.685,"v":3.18},{"s":"PRT","t":2016.693,"v":3.23},{"s":"PRT","t":2016.701,"v":3.30},{"s":"PRT","t":2016.705,"v":3.52},{"s":"PRT","t":2016.712,"v":3.43},{"s":"PRT","t":2016.720,"v":3.49},{"s":"PRT","t":2016.726,"v":3.52},{"s":"PRT","t":2016.734,"v":3.62},{"s":"PRT","t":2016.741,"v":3.59}
]},
"layer": [
{"data": {"name": "series"},
 "mark": {"type": "line", "strokeWidth": 3.6, "strokeJoin": "round", "strokeCap": "round"},
 "encoding": {
  "x": {"field": "t", "type": "quantitative", "scale": {"domain": [2014, 2016.745], "nice": false, "zero": false},
   "axis": {"title": null, "values": [2014.469, 2015, 2015.497, 2016, 2016.465], "labelExpr": "datum.value % 1 == 0 ? '' : toString(floor(datum.value))", "tickOpacity": {"condition": {"test": "datum.value % 1 != 0", "value": 0}, "value": 1}, "tickSize": 7, "tickColor": "#888888", "domainColor": "#777777", "domainWidth": 1.5, "labelPadding": 6, "labelFont": "Open Sans", "labelFontSize": 16, "labelColor": "#222222", "grid": false, "labelOverlap": false, "labelFlush": false}},
  "y": {"field": "v", "type": "quantitative", "scale": {"domain": [0, 4], "nice": false},
   "axis": {"title": null, "values": [0, 1, 2, 3, 4], "format": "d", "grid": true, "gridColor": "#d4d4d4", "gridWidth": 1, "gridOpacity": {"condition": {"test": "datum.value == 4 || datum.value == 0", "value": 0}, "value": 1}, "tickSize": 4, "tickColor": "#c8c8c8", "labelAlign": "left", "labelBaseline": "middle", "labelPadding": 22, "labelFont": "Open Sans", "labelFontSize": 16, "labelColor": "#222222", "domainColor": "#777777", "domainWidth": 1.5}},
  "color": {"field": "s", "type": "nominal", "scale": {"domain": ["PRT", "ITA", "ESP", "IRL", "FRA"], "range": ["#d9a373", "#f7931e", "#2a9138", "#b81c8c", "#0b58a6"]}, "legend": null}
 }},
{"data": {"values": [
  {"s": "PRT", "t": 2014.273, "v": 3.33},
  {"s": "ITA", "t": 2014.913, "v": 1.75},
  {"s": "ESP", "t": 2016.203, "v": 1.75},
  {"s": "IRL", "t": 2015.601, "v": 0.79},
  {"s": "FRA", "t": 2014.196, "v": 0.71}
 ]},
 "mark": {"type": "text", "font": "Open Sans", "fontSize": 16, "fontWeight": "bold", "align": "center", "baseline": "middle"},
 "encoding": {
  "x": {"field": "t", "type": "quantitative"},
  "y": {"field": "v", "type": "quantitative"},
  "text": {"field": "s"},
  "color": {"field": "s", "type": "nominal", "legend": null}
 }}
]
}
